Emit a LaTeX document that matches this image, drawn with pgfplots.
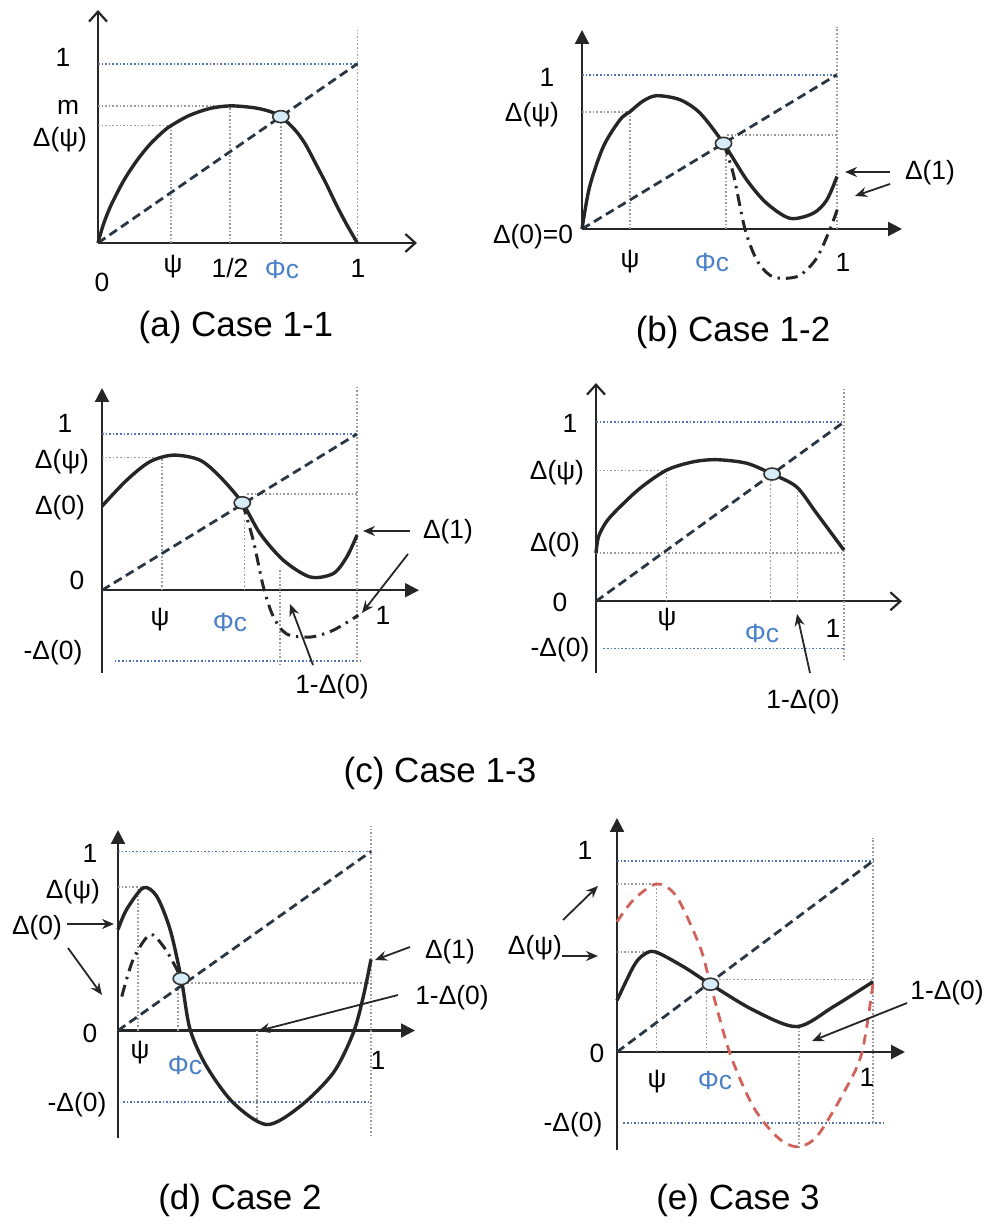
\documentclass[border=0pt]{standalone}
\usepackage{pgfplots}
\pgfplotsset{compat=1.18}
\usepackage{fontspec}
\setmainfont{Liberation Sans}
\usetikzlibrary{arrows.meta}
\definecolor{dashc}{HTML}{2A3642}
\definecolor{bluedot}{HTML}{5273B5}
\definecolor{graydot}{HTML}{9A9A9A}
\definecolor{phic}{HTML}{4A80C8}
\definecolor{reddash}{HTML}{D0625A}
\definecolor{circfill}{HTML}{D6ECF8}
\newcommand\lab{\fontsize{13.2}{15}\selectfont}
\newcommand\capt{\fontsize{17.5}{20}\selectfont}
\pgfplotsset{
  panel/.style={scale only axis, axis lines=middle, ticks=none, clip=false,
    anchor=south west, xmin=0, enlargelimits=false,
    axis line style={line width=1.1pt, black!85}},
  openx/.style={x axis line style={-{Straight Barb[length=5pt,width=9pt]}}},
  openy/.style={y axis line style={-{Straight Barb[length=5pt,width=9pt]}}},
  fillx/.style={x axis line style={-{Triangle[length=7pt,width=7pt]}}},
  filly/.style={y axis line style={-{Triangle[length=7pt,width=7pt]}}},
  refblue/.style={bluedot, densely dotted, line width=0.8pt},
  refgray/.style={graydot, densely dotted, line width=0.8pt},
  diag/.style={dashc, line width=1.4pt, dash pattern=on 4.5pt off 2.5pt},
  curve/.style={black!85, line width=1.7pt, smooth},
  dashdot/.style={black!85, line width=1.5pt, smooth, dash pattern=on 6pt off 3pt on 1.2pt off 3pt},
  redd/.style={reddash, line width=1.4pt, smooth, dash pattern=on 5pt off 3.5pt},
  circ/.style={only marks, mark=*, mark size=3pt, mark options={fill=circfill, draw=black!80, line width=0.8pt, xscale=1.35}},
}
\tikzset{ann/.style={-{Stealth[length=6pt,width=5pt]}, line width=0.9pt, black!85}}
\begin{document}
\begin{tikzpicture}
\useasboundingbox (0,0) rectangle (494.5pt,612pt);
% ---------- (a) ----------
\begin{axis}[panel, openx, openy, at={(49pt,490.5pt)}, width=159.5pt, height=116.5pt,
  xmax=1.23, ymin=0, ymax=1.30]
\addplot[refblue] coordinates {(0,1) (1,1)};
\addplot[refgray] coordinates {(1,0) (1,1.19)};
\addplot[refgray] coordinates {(0,0.765) (0.51,0.765)};
\addplot[refgray] coordinates {(0,0.655) (0.282,0.655)};
\addplot[refgray] coordinates {(0.282,0) (0.282,0.655)};
\addplot[refgray] coordinates {(0.51,0) (0.51,0.765)};
\addplot[refgray] coordinates {(0.705,0) (0.705,0.705)};
\addplot[diag] coordinates {(0,0) (1,1)};
\addplot[curve] coordinates {(0,0) (0.02,0.10) (0.05,0.21) (0.1,0.35) (0.15,0.46) (0.2,0.55) (0.25,0.62) (0.282,0.655) (0.35,0.71) (0.43,0.75) (0.51,0.765) (0.6,0.755) (0.66,0.735) (0.705,0.705) (0.76,0.63) (0.8,0.55) (0.844,0.43) (0.88,0.33) (0.92,0.21) (0.96,0.10) (1,0)};
\addplot[circ] coordinates {(0.705,0.705)};
\end{axis}
% ---------- (b) ----------
\begin{axis}[panel, fillx, filly, at={(291pt,497.5pt)}, width=160pt, height=99.5pt,
  xmax=1.255, ymin=0, ymax=1.29]
\addplot[refblue] coordinates {(0,1) (1,1)};
\addplot[refgray] coordinates {(1,0) (1,1.31)};
\addplot[refgray] coordinates {(0,0.76) (0.188,0.76)};
\addplot[refgray] coordinates {(0.188,0) (0.188,0.76)};
\addplot[refgray] coordinates {(0.565,0) (0.565,0.54)};
\addplot[refgray] coordinates {(0.57,0.61) (1,0.61)};
\addplot[diag] coordinates {(0,0) (1,1)};
\addplot[dashdot] coordinates {(0.555,0.555) (0.593,0.36) (0.639,0) (0.685,-0.2) (0.737,-0.30) (0.79,-0.32) (0.855,-0.30) (0.92,-0.19) (0.973,0) (1.005,0.145)};
\addplot[curve] coordinates {(0,0) (0.03,0.275) (0.084,0.535) (0.149,0.708) (0.188,0.76) (0.24,0.83) (0.293,0.864) (0.384,0.838) (0.463,0.751) (0.555,0.555) (0.646,0.318) (0.724,0.167) (0.816,0.069) (0.907,0.102) (0.96,0.188) (1.0,0.34)};
\addplot[circ] coordinates {(0.555,0.555)};
\end{axis}
% ---------- (c) left ----------
\begin{axis}[panel, fillx, filly, at={(51pt,275.5pt)}, width=158.5pt, height=142.5pt,
  xmax=1.243, ymin=-0.53, ymax=1.295]
\addplot[refblue] coordinates {(0,1) (1,1)};
\addplot[refblue] coordinates {(0.05,-0.453) (1.02,-0.453)};
\addplot[refgray] coordinates {(1,-0.46) (1,1.31)};
\addplot[refgray] coordinates {(0,0.85) (0.235,0.85)};
\addplot[refgray] coordinates {(0.235,0) (0.235,0.855)};
\addplot[refgray] coordinates {(0.558,0) (0.558,0.45)};
\addplot[refgray] coordinates {(0.57,0.615) (1,0.615)};
\addplot[refgray] coordinates {(0.698,0.13) (0.698,-0.47)};
\addplot[diag] coordinates {(0,0) (1,1)};
\addplot[dashdot] coordinates {(0.55,0.56) (0.593,0.32) (0.633,0.02) (0.672,-0.17) (0.724,-0.28) (0.816,-0.30) (0.907,-0.256) (1.005,-0.16)};
\addplot[curve] coordinates {(0,0.538) (0.097,0.705) (0.188,0.823) (0.28,0.865) (0.384,0.833) (0.463,0.726) (0.55,0.56) (0.62,0.363) (0.711,0.192) (0.816,0.085) (0.907,0.107) (0.96,0.214) (1.0,0.353)};
\addplot[circ] coordinates {(0.55,0.56)};
\end{axis}
% ---------- (c) right ----------
\begin{axis}[panel, openx, openy, at={(298pt,275.5pt)}, width=153pt, height=145pt,
  xmax=1.234, ymin=-0.40, ymax=1.218]
\addplot[refblue] coordinates {(0,1) (1,1)};
\addplot[refblue] coordinates {(0.03,-0.264) (1,-0.264)};
\addplot[refgray] coordinates {(1,-0.33) (1,1.195)};
\addplot[refgray] coordinates {(0,0.73) (0.285,0.73)};
\addplot[refgray] coordinates {(0.285,0) (0.285,0.73)};
\addplot[refgray] coordinates {(0,0.27) (1,0.27)};
\addplot[refgray] coordinates {(0.704,0) (0.704,0.68)};
\addplot[refgray] coordinates {(0.813,0) (0.813,0.63)};
\addplot[diag] coordinates {(0,0) (1,1)};
\addplot[curve] coordinates {(0,0.27) (0.01,0.36) (0.04,0.44) (0.083,0.508) (0.177,0.63) (0.285,0.732) (0.392,0.778) (0.487,0.79) (0.608,0.77) (0.71,0.71) (0.809,0.638) (0.89,0.49) (1,0.285)};
\addplot[circ] coordinates {(0.71,0.71)};
\end{axis}
% ---------- (d) ----------
\begin{axis}[panel, fillx, filly, at={(59pt,43pt)}, width=148.5pt, height=154pt,
  xmax=1.174, ymin=-0.60, ymax=1.12]
\addplot[refblue] coordinates {(0,1) (1,1)};
\addplot[refblue] coordinates {(0.02,-0.40) (1,-0.40)};
\addplot[refgray] coordinates {(1,-0.59) (1,1.14)};
\addplot[refgray] coordinates {(0,0.80) (0.10,0.80)};
\addplot[refgray] coordinates {(0.08,0) (0.08,0.80)};
\addplot[refgray] coordinates {(0.238,0) (0.238,0.28)};
\addplot[refgray] coordinates {(0.26,0.266) (1,0.266)};
\addplot[refgray] coordinates {(0.55,0) (0.55,-0.5)};
\addplot[diag] coordinates {(0,0) (1,1)};
\addplot[dashdot] coordinates {(0.015,0.19) (0.06,0.397) (0.126,0.536) (0.179,0.471) (0.219,0.378) (0.25,0.29)};
\addplot[curve] coordinates {(0,0.564) (0.034,0.676) (0.10,0.797) (0.153,0.75) (0.206,0.564) (0.25,0.29) (0.285,0.006) (0.35,-0.2) (0.456,-0.404) (0.588,-0.525) (0.72,-0.423) (0.851,-0.236) (0.93,-0.013) (0.97,0.192) (1.0,0.397)};
\addplot[circ] coordinates {(0.25,0.29)};
\end{axis}
% ---------- (e) ----------
\begin{axis}[panel, fillx, filly, at={(308.5pt,37pt)}, width=144pt, height=166pt,
  xmax=1.125, ymin=-0.513, ymax=1.225]
\addplot[refblue] coordinates {(0,1) (1,1)};
\addplot[refblue] coordinates {(0.025,-0.373) (1.04,-0.373)};
\addplot[refgray] coordinates {(1,-0.37) (1,1.12)};
\addplot[refgray] coordinates {(0,0.88) (0.155,0.88)};
\addplot[refgray] coordinates {(0,0.525) (0.15,0.525)};
\addplot[refgray] coordinates {(0.155,0) (0.155,0.88)};
\addplot[refgray] coordinates {(0.35,0) (0.35,0.34)};
\addplot[refgray] coordinates {(0.37,0.38) (1,0.38)};
\addplot[refgray] coordinates {(0.711,0.13) (0.711,-0.5)};
\addplot[diag] coordinates {(0,0) (1,1)};
\addplot[redd] coordinates {(0,0.682) (0.064,0.796) (0.155,0.88) (0.233,0.813) (0.324,0.551) (0.365,0.355) (0.441,-0.007) (0.532,-0.286) (0.624,-0.443) (0.702,-0.496) (0.78,-0.443) (0.884,-0.216) (0.956,-0.007) (1.0,0.36)};
\addplot[curve] coordinates {(0,0.27) (0.064,0.447) (0.1,0.505) (0.148,0.525) (0.259,0.447) (0.365,0.355) (0.532,0.22) (0.702,0.133) (0.845,0.237) (1.0,0.368)};
\addplot[circ] coordinates {(0.365,0.355)};
\end{axis}
% ---------- labels (pixel frame) ----------
\begin{scope}[x=0.5pt,y=-0.5pt,yshift=612pt,every node/.style={font=\lab, inner sep=0pt}]
% (a)
\node at (63,57) {1};
\node at (68,107) {m};
\node at (60,140) {Δ(ψ)};
\node at (102,282) {0};
\node at (173,267) {ψ};
\node at (230,268) {1/2};
\node[text=phic] at (282,269) {Φc};
\node at (358,268) {1};
\node[font=\capt] at (236,327) {(a) Case 1-1};
% (b)
\node at (547,77) {1};
\node at (532,115) {Δ(ψ)};
\node at (533,237) {Δ(0)=0};
\node at (630,262) {ψ};
\node[text=phic] at (712,262) {Φc};
\node at (843,262) {1};
\node at (930,173) {Δ(1)};
\draw[ann] (890,172) -- (845,172);
\draw[ann] (890,184) -- (855,196);
\node[font=\capt] at (733,332) {(b) Case 1-2};
% (c) left
\node at (65,423) {1};
\node at (62,462) {Δ(ψ)};
\node at (60,508) {Δ(0)};
\node at (77,580) {0};
\node at (53,653) {-Δ(0)};
\node at (160,620) {ψ};
\node[text=phic] at (230,622) {Φc};
\node at (383,615) {1};
\node at (448,532) {Δ(1)};
\node at (332,687) {1-Δ(0)};
\draw[ann] (410,531) -- (363,531);
\draw[ann] (408,554) -- (362,613);
\draw[ann] (313,665) -- (290,604);
% (c) right
\node at (570,423) {1};
\node at (557,473) {Δ(ψ)};
\node at (555,545) {Δ(0)};
\node at (560,602) {0};
\node at (560,650) {-Δ(0)};
\node at (667,620) {ψ};
\node[text=phic] at (762,633) {Φc};
\node at (833,628) {1};
\node at (803,702) {1-Δ(0)};
\draw[ann] (810,673) -- (797,614);
\node[font=\capt] at (440,773) {(c) Case 1-3};
% (d)
\node at (90,853) {1};
\node at (73,892) {Δ(ψ)};
\node at (37,928) {Δ(0)};
\node at (90,1033) {0};
\node at (77,1105) {-Δ(0)};
\node at (140,1053) {ψ};
\node[text=phic] at (185,1065) {Φc};
\node at (378,1060) {1};
\node at (450,952) {Δ(1)};
\node at (452,998) {1-Δ(0)};
\draw[ann] (67,924) -- (114,924);
\draw[ann] (68,948) -- (102,995);
\draw[ann] (410,947) -- (375,960);
\draw[ann] (398,995) -- (258,1031);
\node[font=\capt] at (240,1200) {(d) Case 2};
% (e)
\node at (585,850) {1};
\node at (535,948) {Δ(ψ)};
\node at (597,1053) {0};
\node at (573,1125) {-Δ(0)};
\node at (657,1082) {ψ};
\node[text=phic] at (715,1080) {Φc};
\node at (867,1077) {1};
\node at (947,993) {1-Δ(0)};
\draw[ann] (563,920) -- (598,886);
\draw[ann] (562,956) -- (598,956);
\draw[ann] (907,1003) -- (812,1041);
\node[font=\capt] at (738,1200) {(e) Case 3};
\end{scope}
\end{tikzpicture}
\end{document}
